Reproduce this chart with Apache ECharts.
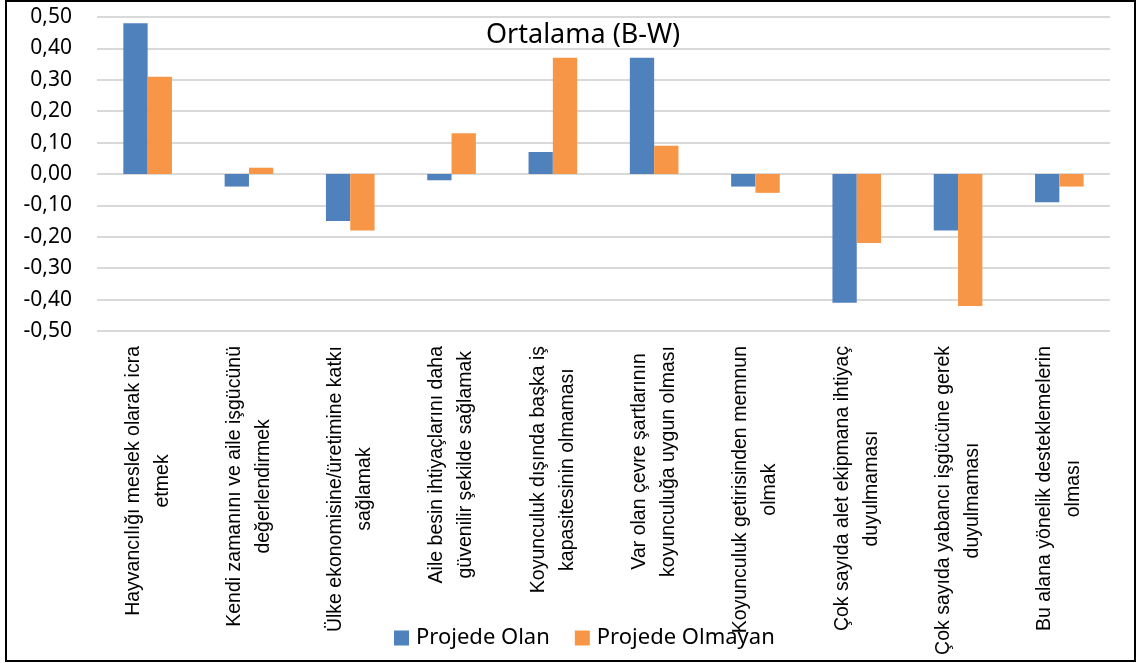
<!DOCTYPE html>
<html>
<head>
<meta charset="utf-8">
<script src="https://cdn.jsdelivr.net/npm/echarts@6/dist/echarts.min.js"></script>
<style>
    html, body { margin: 0; padding: 0; background: #fff; }
    #chart { width: 1137px; height: 663px; }
</style>
</head>
<body>
<div id="chart"></div>
<script>
// kategoriler (eksen yazısı iki satır)
const categories = [
    'Hayvancılığı meslek olarak icra\netmek',
    'Kendi zamanını ve aile işgücünü\ndeğerlendirmek',
    'Ülke ekonomisine/üretimine katkı\nsağlamak',
    'Aile besin ihtiyaçlarını daha\ngüvenilir şekilde sağlamak',
    'Koyunculuk dışında başka iş\nkapasitesinin olmaması',
    'Var olan çevre şartlarının\nkoyunculuğa uygun olması',
    'Koyunculuk getirisinden memnun\nolmak',
    'Çok sayıda alet ekipmana ihtiyaç\nduyulmaması',
    'Çok sayıda yabancı işgücüne gerek\nduyulmaması',
    'Bu alana yönelik desteklemelerin\nolması'
]
const projedeOlan = [0.48, -0.04, -0.15, -0.02, 0.07, 0.37, -0.04, -0.41, -0.18, -0.09]
const projedeOlmayan = [0.31, 0.02, -0.18, 0.13, 0.37, 0.09, -0.06, -0.22, -0.42, -0.04]
const seriesNames = ['Projede Olan', 'Projede Olmayan']
const titleText = 'Ortalama (B-W)'

const myChart = echarts.init(document.getElementById('chart'))

const option = {
    animation: false,
    backgroundColor: '#fff',
    color: ['#4f81bd', '#f79646'],
    title: {
        text: titleText,
        left: 481,
        top: 17,
        textStyle: {
            fontFamily: 'Noto Sans',
            fontSize: 27,
            fontWeight: 'normal',
            color: '#000',
        },
    },
    legend: {
        data: seriesNames,
        left: 389,
        top: 622,
        itemWidth: 15,
        itemHeight: 15,
        itemGap: 25,
        icon: 'rect',
        textStyle: {
            fontFamily: 'Noto Sans',
            fontSize: 22,
            color: '#000',
            padding: [0, 0, 0, 2],
        },
    },
    grid: {
        left: 97,
        right: 27,
        top: 17,
        bottom: 332,
        outerBoundsMode: 'none',
        containLabel: false,
    },
    xAxis: {
        type: 'category',
        data: categories,
        axisLine: { show: false, onZero: false },
        axisTick: { show: false },
        axisLabel: {
            interval: 0,
            rotate: 90,
            margin: 15,
            color: '#000',
            hideOverlap: false,
            formatter: (v) => v.split('\n').map((s) => '{c|' + s + '}').join('\n'),
            rich: {
                c: {
                    align: 'center',
                    fontFamily: 'Liberation Sans',
                    fontSize: 19.5,
                    lineHeight: 29,
                    color: '#000',
                },
            },
        },
    },
    yAxis: {
        type: 'value',
        min: -0.5,
        max: 0.5,
        interval: 0.1,
        axisLine: { show: false },
        axisTick: { show: false },
        splitLine: { lineStyle: { color: '#d9d9d9', width: 2 } },
        axisLabel: {
            margin: 25,
            color: '#000',
            fontFamily: 'Noto Sans',
            fontSize: 21,
            formatter: (v) => v.toFixed(2).replace('.', ','),
        },
    },
    series: [
        {
            name: seriesNames[0],
            type: 'bar',
            data: projedeOlan,
            barGap: '0%',
            barCategoryGap: '52%',
        },
        {
            name: seriesNames[1],
            type: 'bar',
            data: projedeOlmayan,
        },
    ],
    graphic: [
        {
            type: 'rect',
            shape: { x: 6, y: 1, width: 1129, height: 660 },
            style: { fill: 'none', stroke: '#000', lineWidth: 2 },
            z: 100,
        },
    ],
}

myChart.setOption(option)
</script>
</body>
</html>
